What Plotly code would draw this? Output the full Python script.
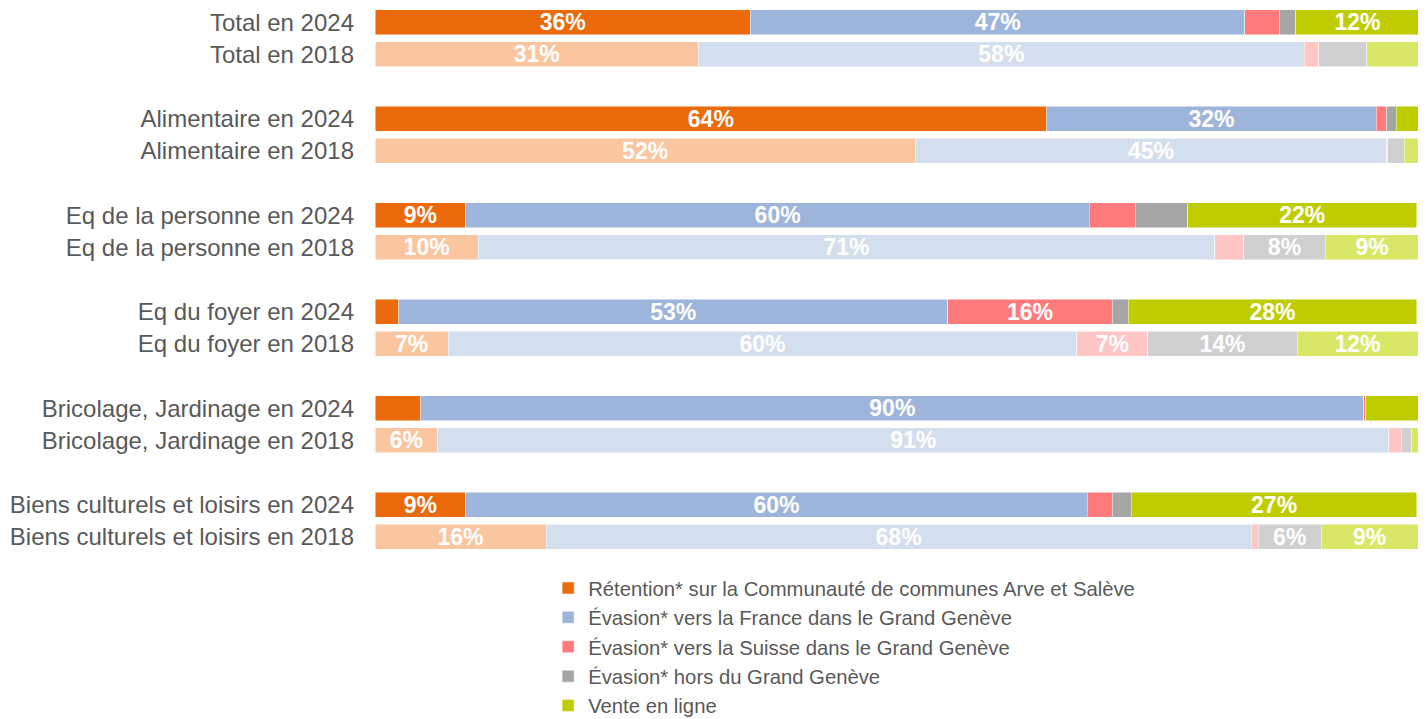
import plotly.graph_objects as go

rows = ["Total en 2024", "Total en 2018",
        "Alimentaire en 2024", "Alimentaire en 2018",
        "Eq de la personne en 2024", "Eq de la personne en 2018",
        "Eq du foyer en 2024", "Eq du foyer en 2018",
        "Bricolage, Jardinage en 2024", "Bricolage, Jardinage en 2018",
        "Biens culturels et loisirs en 2024", "Biens culturels et loisirs en 2018"]

retention = [36.0, 31.0, 64.4, 51.8, 8.7, 9.9, 2.3, 7.0, 4.4, 6.0, 8.7, 16.4]
france    = [47.4, 58.1, 31.6, 45.2, 59.8, 70.6, 52.6, 60.3, 90.4, 91.2, 59.6, 67.6]
suisse    = [3.3, 1.4, 1.0, 0.1, 4.4, 2.8, 15.8, 6.8, 0.2, 1.2, 2.4, 0.7]
hors      = [1.6, 4.6, 0.9, 1.6, 5.0, 7.8, 1.5, 14.3, 0.0, 1.0, 1.8, 6.0]
online    = [11.8, 4.9, 2.1, 1.4, 22.0, 9.0, 27.7, 11.6, 5.0, 0.7, 27.4, 9.3]

series_names = ["Rétention* sur la Communauté de communes Arve et Salève",
                "Évasion* vers la France dans le Grand Genève",
                "Évasion* vers la Suisse dans le Grand Genève",
                "Évasion* hors du Grand Genève",
                "Vente en ligne"]
series_vals = [retention, france, suisse, hors, online]
colors_2024 = ["#EA6A0C", "#9DB5DB", "#FF7B7B", "#A5A5A5", "#BFCD00"]
colors_2018 = ["#FAC6A0", "#D3DFEE", "#FFC6C6", "#D0D0D0", "#D8E866"]

# slot positions: each group = 2024 row, 2018 row, empty row
slots = [3 * (i // 2) + (i % 2) for i in range(len(rows))]
idx24 = [i for i in range(len(rows)) if i % 2 == 0]
idx18 = [i for i in range(len(rows)) if i % 2 == 1]

fig = go.Figure()
for name, vals, c24, c18 in zip(series_names, series_vals, colors_2024, colors_2018):
    for idx, col, show in ((idx24, c24, True), (idx18, c18, False)):
        xv = [vals[i] for i in idx]
        yv = [slots[i] for i in idx]
        txt = [f"{v:.0f}%" if v >= 5.5 else "" for v in xv]
        fig.add_trace(go.Bar(
            x=xv, y=yv, orientation="h", name=name, legendgroup=name,
            showlegend=show, width=0.78,
            marker=dict(color=col, line=dict(color="rgba(255,255,255,0.6)", width=0.8)),
            text=txt, textposition="inside", insidetextanchor="middle",
            textangle=0,
            textfont=dict(family="Liberation Sans, Arial", size=23, color="white", weight="bold"),
            hoverinfo="skip",
        ))

# page body has an 8px margin: figure sized to fill the remaining window
fig.update_layout(
    barmode="stack",
    width=1418, height=711,
    margin=dict(l=367, r=8, t=0, b=166, autoexpand=False),
    paper_bgcolor="white", plot_bgcolor="white",
    font=dict(family="Liberation Sans, Arial", color="#595959"),
    uniformtext=dict(minsize=23, mode="show"),
    xaxis=dict(range=[0, 100], visible=False, showgrid=False, zeroline=False),
    yaxis=dict(range=[16.5, -0.44], tickmode="array", tickvals=slots, ticktext=rows,
               showgrid=False, zeroline=False, showline=False, ticks="",
               automargin=False,
               tickfont=dict(size=24, color="#595959"), ticklabelstandoff=20),
    legend=dict(orientation="v", x=0.166, xanchor="left", y=-0.028, yanchor="top",
                font=dict(size=20.3, color="#595959"), traceorder="normal",
                itemclick=False, tracegroupgap=0, bgcolor="rgba(0,0,0,0)"),
    showlegend=True,
)

fig.write_html("out.html")
